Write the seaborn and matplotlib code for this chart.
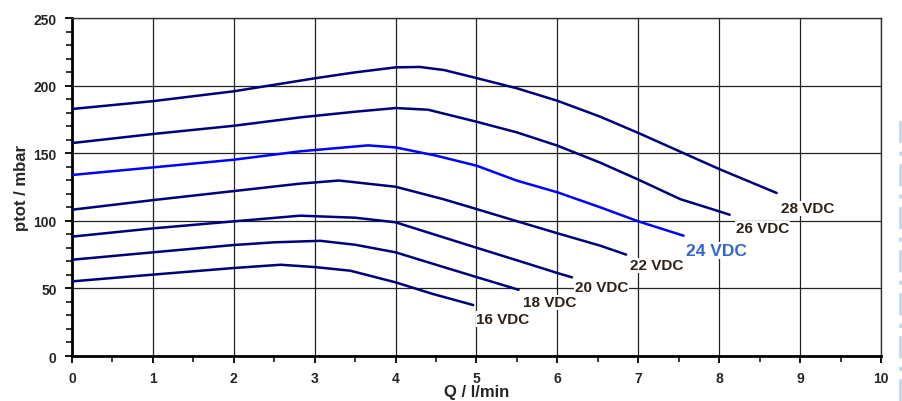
import pandas as pd
import matplotlib.pyplot as plt
import seaborn as sns
from matplotlib.lines import Line2D
from matplotlib.ticker import MultipleLocator

# Curve data (Q in l/min, ptot in mbar)
q_16 = [0, 1, 2, 2.58, 3, 3.44, 4, 4.46, 4.96]
p_16 = [55.2, 60.2, 65.1, 67.5, 65.8, 63.1, 54.5, 45.9, 37.7]

q_18 = [0, 1, 2, 2.5, 3.07, 3.5, 4, 4.5, 5, 5.52]
p_18 = [71.2, 76.7, 82.1, 84.1, 85.2, 82.3, 76.7, 67.5, 58.4, 49.0]

q_20 = [0, 1, 2, 2.82, 3.5, 4, 4.5, 5, 5.5, 6, 6.18]
p_20 = [88.3, 94.4, 99.6, 103.8, 102.3, 98.9, 89.5, 80.1, 70.8, 61.4, 58.2]

q_22 = [0, 1, 2, 2.82, 3.3, 4, 4.59, 5, 5.5, 6, 6.53, 6.85]
p_22 = [108.2, 115.3, 122.0, 127.5, 129.8, 125.2, 116.0, 108.7, 99.7, 90.8, 81.6, 75.0]

q_24 = [0, 1, 2, 2.82, 3.66, 4, 4.5, 5, 5.5, 6, 6.53, 7, 7.56]
p_24 = [133.9, 139.5, 145.2, 151.4, 155.8, 154.3, 148.2, 140.8, 129.7, 121.1, 110.0, 99.6, 89.0]

q_26 = [0, 1, 2, 2.82, 3.5, 4, 4.4, 5, 5.5, 6, 6.53, 7, 7.52, 8, 8.13]
p_26 = [157.5, 164.2, 170.3, 176.5, 180.7, 183.4, 182.2, 173.3, 165.4, 155.6, 143.0, 130.5, 116.0, 107.0, 104.5]

q_28 = [0, 1, 2, 3, 3.5, 4, 4.3, 4.6, 5, 5.5, 6, 6.53, 7, 8, 8.71]
p_28 = [182.7, 188.5, 195.8, 205.4, 209.8, 213.5, 213.8, 211.5, 205.6, 198.0, 188.8, 177.0, 165.0, 138.3, 120.6]

voltages = ["16 VDC", "18 VDC", "20 VDC", "22 VDC", "24 VDC", "26 VDC", "28 VDC"]
curves = [(q_16, p_16), (q_18, p_18), (q_20, p_20), (q_22, p_22),
          (q_24, p_24), (q_26, p_26), (q_28, p_28)]

# label anchor points (left edge, vertical centre)
label_x = [5.0, 5.58, 6.22, 6.9, 7.59, 8.21, 8.77]
label_y = [27.4, 39.6, 50.7, 67.0, 78.0, 94.4, 109.2]

rows = []
for v, (qs, ps) in zip(voltages, curves):
    for q, p in zip(qs, ps):
        rows.append({"Q": q, "p": p, "U": v})
df = pd.DataFrame(rows)

navy = "#00007a"
palette = {v: navy for v in voltages}
palette["24 VDC"] = "#0000ff"

sns.set_style("white")
plt.rcParams["font.family"] = ["Liberation Sans", "DejaVu Sans"]
plt.rcParams["font.weight"] = "bold"

fig = plt.figure(figsize=(9.02, 4.02), dpi=100)
ax = fig.add_axes([0.0798, 0.1119, 0.8969, 0.8408])

sns.lineplot(data=df, x="Q", y="p", hue="U", palette=palette, sort=False,
             estimator=None, legend=False, linewidth=1.8, ax=ax, zorder=3)

# curve labels with white boxes over the grid
for v, lx, ly in zip(voltages, label_x, label_y):
    is24 = v == "24 VDC"
    ax.text(lx, ly, v, ha="left", va="center",
            fontsize=12.5 if is24 else 11, fontweight="bold",
            color="#3366cc" if is24 else "#2b2118", zorder=4,
            bbox=dict(facecolor="white", edgecolor="none", pad=0.5))

ax.set_xlim(0, 10)
ax.set_ylim(0, 250)
ax.xaxis.set_major_locator(MultipleLocator(1))
ax.xaxis.set_minor_locator(MultipleLocator(0.5))
ax.yaxis.set_major_locator(MultipleLocator(50))
ax.yaxis.set_minor_locator(MultipleLocator(10))
ax.grid(True, which="major", color="#222222", linewidth=0.9)
ax.set_axisbelow(True)

ax.tick_params(axis="both", which="major", direction="out", length=5, width=1.3,
               labelsize=10, pad=6, color="black", left=True, bottom=True)
ax.tick_params(axis="both", which="minor", direction="out", length=4, width=1.1,
               color="black", left=True, bottom=True)
for lab in ax.get_xticklabels() + ax.get_yticklabels():
    lab.set_fontweight("bold")

for side in ["left", "bottom"]:
    ax.spines[side].set_color("black")
    ax.spines[side].set_linewidth(2)
for side in ["top", "right"]:
    ax.spines[side].set_color("#333333")
    ax.spines[side].set_linewidth(1)

ax.set_xlabel("Q / l/min", fontsize=12, fontweight="bold", va="center")
ax.xaxis.set_label_coords(0.5, -0.105)
ax.set_ylabel("ptot / mbar", fontsize=12, fontweight="bold", va="center")
ax.yaxis.set_label_coords(-0.062, 0.5)

# faint dash-dot page edge on the right
fig.add_artist(Line2D([0.9978, 0.9978], [0.0, 0.706], transform=fig.transFigure,
                      color="#c5d5f0", linewidth=2, linestyle=(0, (8, 3, 1.5, 3))))

fig.savefig("out.png", dpi=100)
